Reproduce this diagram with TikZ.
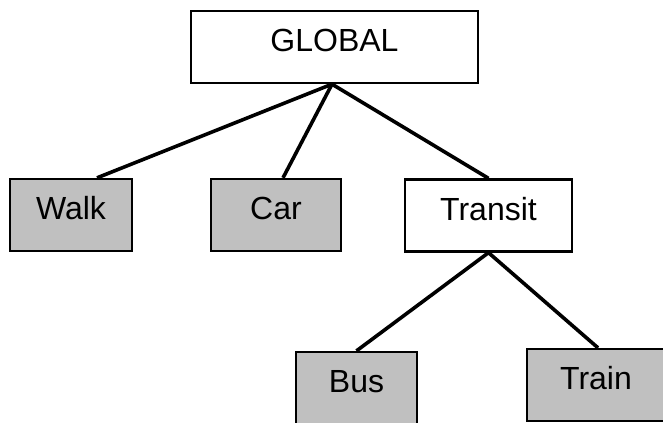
\documentclass[tikz,border=0pt]{standalone}
\usepackage{fontspec}
\setmainfont{Liberation Sans}
\definecolor{leafgray}{RGB}{192,192,192}
\begin{document}
\begin{tikzpicture}[x=1bp,y=-1bp,
  boxstyle/.style={draw=black,line width=2.3bp,rectangle,minimum height=72bp,inner sep=0pt,
    font=\fontsize{32bp}{38bp}\selectfont,text height=23bp,text depth=14bp},
  leaf/.style={boxstyle,fill=leafgray},
  inner/.style={boxstyle,fill=white},
  link/.style={line width=3.6bp,black}]
\useasboundingbox (0,0) rectangle (663,422);
\clip (0,0) rectangle (663,422);
\node[inner,minimum width=287bp] (global) at (334.5,47) {GLOBAL};
\node[leaf,minimum width=122bp] (walk) at (71,215) {Walk};
\node[leaf,minimum width=130bp] (car) at (276,215) {Car};
\node[inner,minimum width=167bp] (transit) at (488.5,215.5) {Transit};
\node[leaf,minimum width=121bp] (bus) at (356.5,388) {Bus};
\node[leaf,minimum width=138bp] (train) at (596,385) {Train};
\coordinate (gs) at ([xshift=-2.5bp]global.south);
\draw[link] (gs) -- ([xshift=26bp]walk.north);
\draw[link] (gs) -- ([xshift=7bp]car.north);
\draw[link] (gs) -- (transit.north);
\draw[link] (transit.south) -- (bus.north);
\draw[link] (transit.south) -- ([xshift=2bp]train.north);
\end{tikzpicture}
\end{document}
